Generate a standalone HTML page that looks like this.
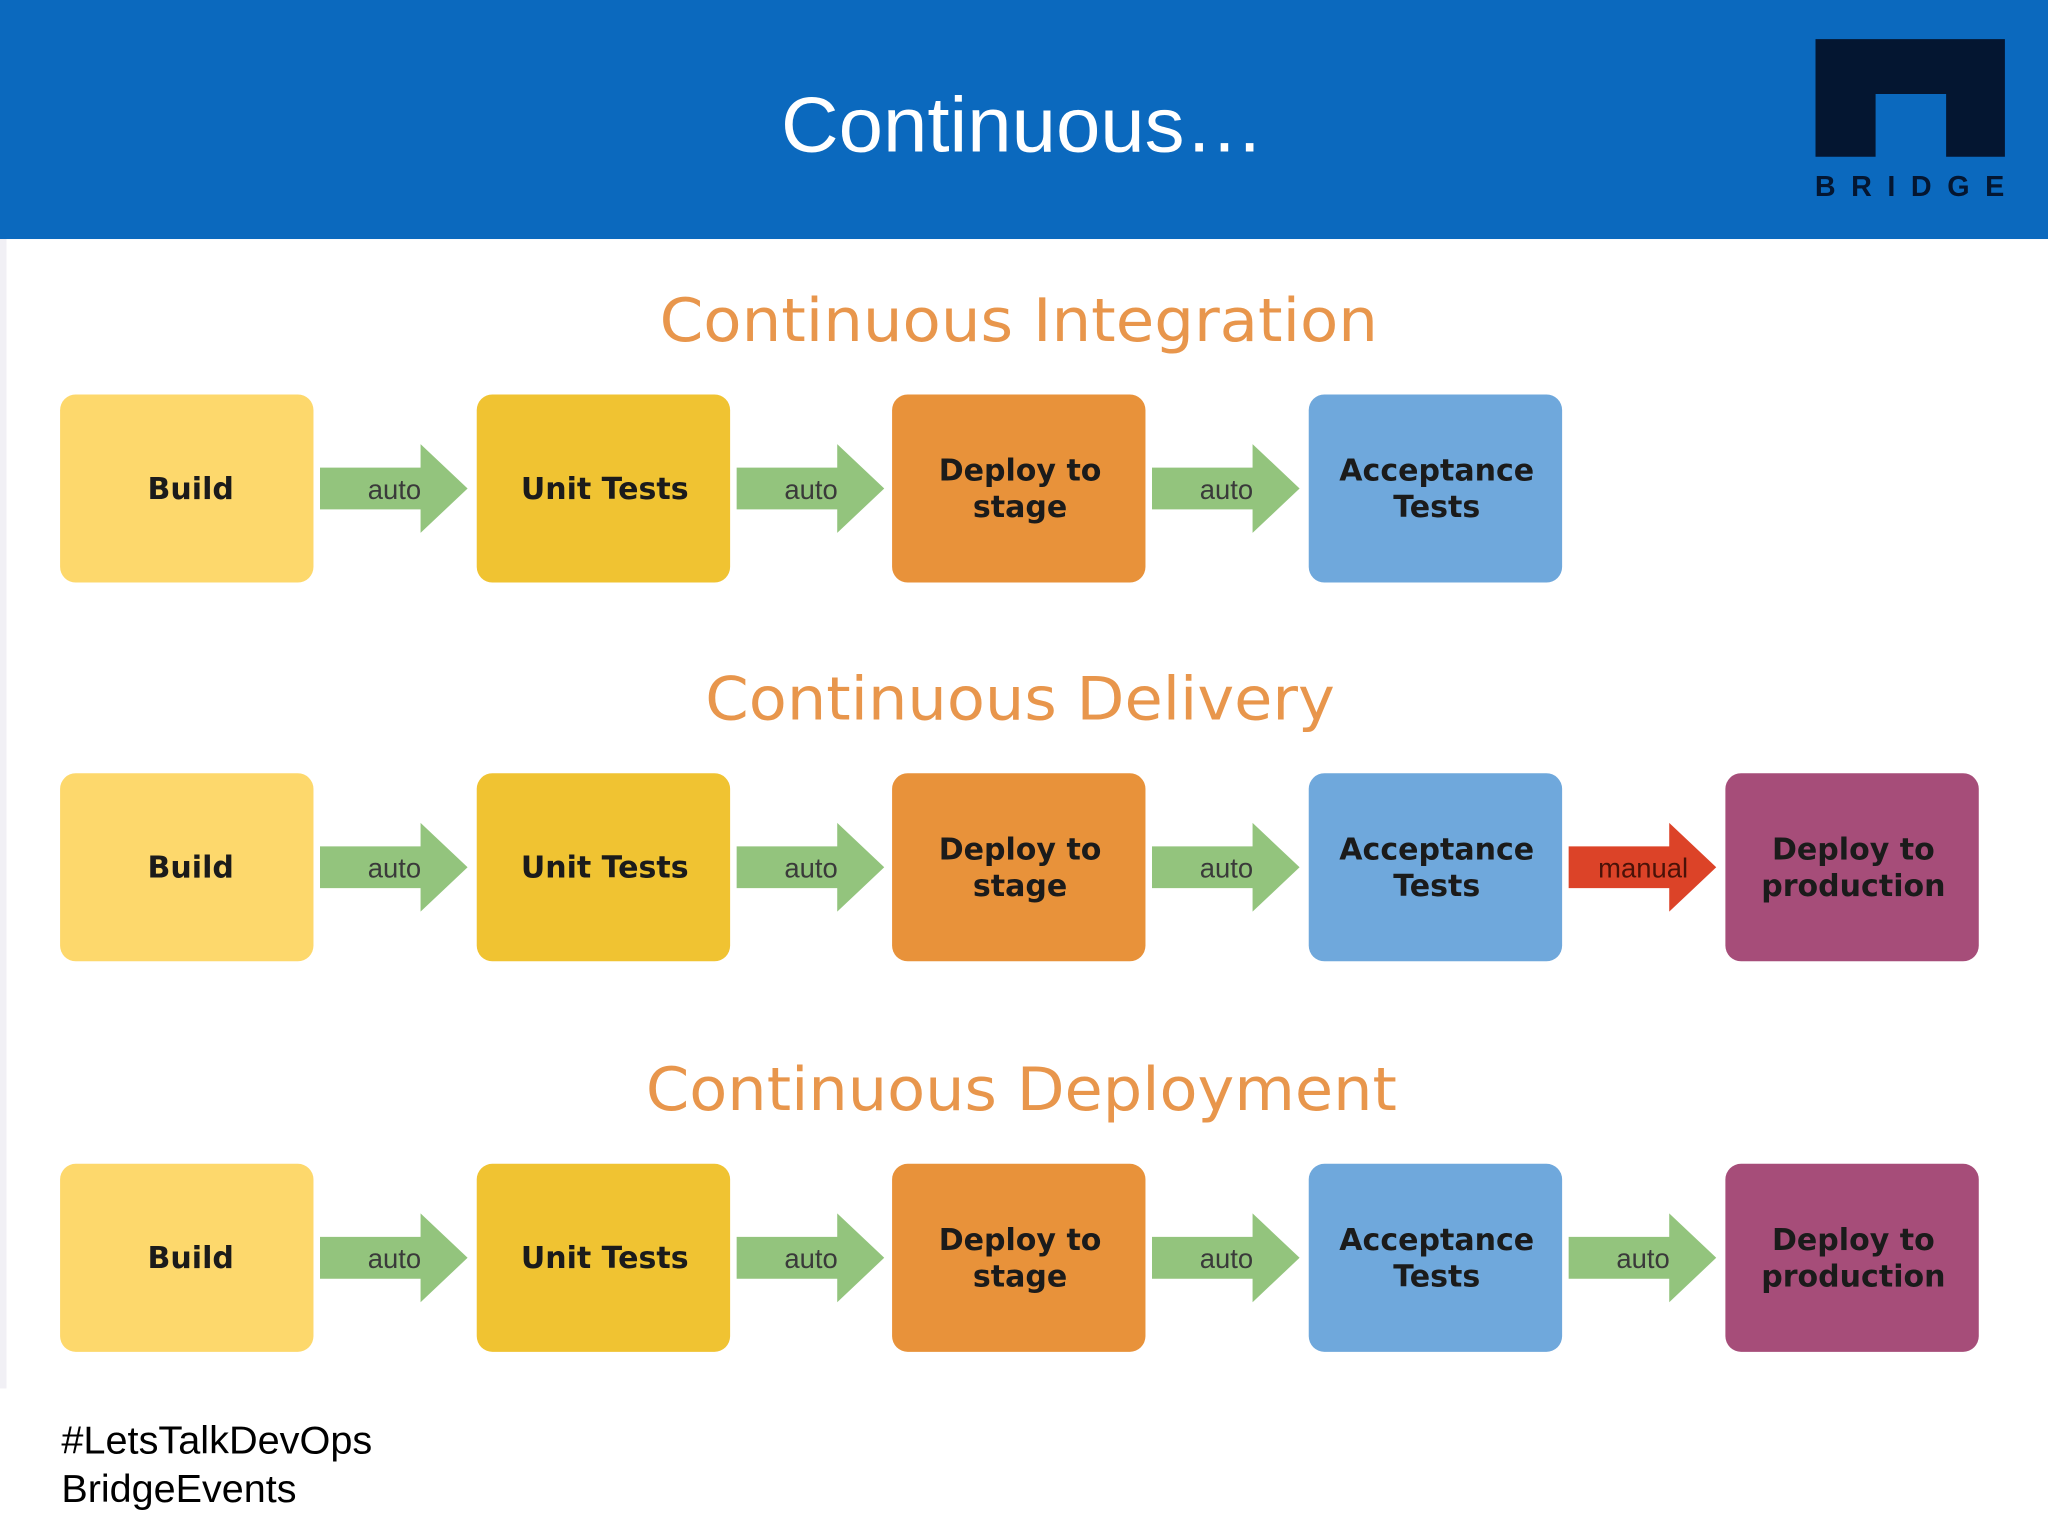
<!DOCTYPE html>
<html><head><meta charset="utf-8"><style>
html,body{margin:0;padding:0;background:#fff;}
svg{display:block;}
.bx{font-family:"DejaVu Sans",Verdana,sans-serif;font-weight:bold;font-size:23px;fill:#1b1b1b;text-anchor:middle;}
.au{font-family:"Liberation Sans",Arial,sans-serif;font-size:21px;fill:#3a3a3a;text-anchor:middle;}
.tt{font-family:"DejaVu Sans",Verdana,sans-serif;font-size:46px;fill:#e8964c;text-anchor:middle;}
</style></head><body>
<svg width="2048" height="1536" viewBox="0 0 1568 1176" preserveAspectRatio="none" xmlns="http://www.w3.org/2000/svg">
<defs>
<g id="ga"><polygon points="0,18 77,18 77,0 113,34 77,68 77,50 0,50" fill="#93c47d"/></g>
<g id="gr"><polygon points="0,18 77,18 77,0 113,34 77,68 77,50 0,50" fill="#dc4328"/></g>
</defs>
<rect x="0" y="183" width="5" height="880" fill="#f1f0f5"/>
<rect x="0" y="0" width="1568" height="183" fill="#0b69be"/>
<text x="783" y="116" font-family="Liberation Sans,Arial,sans-serif" font-size="60" fill="#fff" text-anchor="middle" textLength="370" lengthAdjust="spacingAndGlyphs">Continuous…</text>
<path d="M1390,30 H1535 V120 H1490 V72 H1436 V120 H1390 Z" fill="#041631"/>
<text x="1462" y="150" font-family="Liberation Sans,Arial,sans-serif" font-size="22" font-weight="bold" fill="#041631" text-anchor="middle" textLength="145" lengthAdjust="spacing">BRIDGE</text>

<text class="tt" x="780" y="261" textLength="550" lengthAdjust="spacingAndGlyphs">Continuous Integration</text>
<text class="tt" x="781" y="551" textLength="482" lengthAdjust="spacingAndGlyphs">Continuous Delivery</text>
<text class="tt" x="782" y="850" textLength="575" lengthAdjust="spacingAndGlyphs">Continuous Deployment</text>

<g id="row1">
<rect x="46" y="302" width="194" height="144" rx="12" fill="#fdd86c"/>
<rect x="365" y="302" width="194" height="144" rx="12" fill="#f0c332"/>
<rect x="683" y="302" width="194" height="144" rx="12" fill="#e8923a"/>
<rect x="1002" y="302" width="194" height="144" rx="12" fill="#6fa8dc"/>
<text class="bx" x="146" y="382">Build</text>
<text class="bx" x="463" y="382">Unit Tests</text>
<text class="bx" x="781" y="368">Deploy to</text>
<text class="bx" x="781" y="396">stage</text>
<text class="bx" x="1100" y="368">Acceptance</text>
<text class="bx" x="1100" y="396">Tests</text>
<use href="#ga" x="245" y="340"/>
<use href="#ga" x="564" y="340"/>
<use href="#ga" x="882" y="340"/>
<text class="au" x="302" y="382">auto</text>
<text class="au" x="621" y="382">auto</text>
<text class="au" x="939" y="382">auto</text>
</g>
<use href="#row1" y="290"/>
<use href="#row1" y="589"/>

<rect x="1321" y="592" width="194" height="144" rx="12" fill="#a64d79"/>
<text class="bx" x="1419" y="658">Deploy to</text>
<text class="bx" x="1419" y="686">production</text>
<use href="#gr" x="1201" y="630"/>
<text class="au" x="1258" y="672" style="fill:#4a1208">manual</text>

<rect x="1321" y="891" width="194" height="144" rx="12" fill="#a64d79"/>
<text class="bx" x="1419" y="957">Deploy to</text>
<text class="bx" x="1419" y="985">production</text>
<use href="#ga" x="1201" y="929"/>
<text class="au" x="1258" y="971">auto</text>

<text x="47" y="1113" font-family="Liberation Sans,Arial,sans-serif" font-size="30" fill="#000" textLength="238" lengthAdjust="spacingAndGlyphs">#LetsTalkDevOps</text>
<text x="47" y="1150" font-family="Liberation Sans,Arial,sans-serif" font-size="30" fill="#000" textLength="180" lengthAdjust="spacingAndGlyphs">BridgeEvents</text>
</svg>
</body></html>
